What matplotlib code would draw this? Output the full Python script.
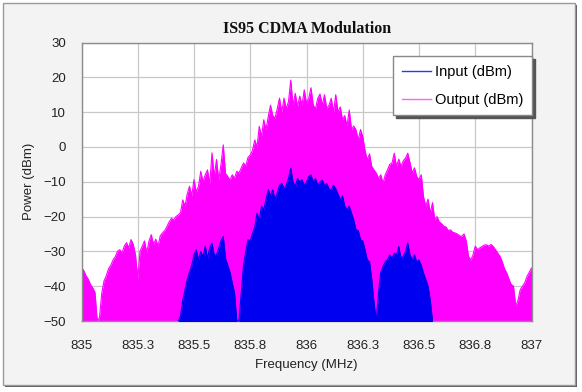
import numpy as np
import matplotlib
matplotlib.use("Agg")
import matplotlib.pyplot as plt
from matplotlib.patches import Rectangle

# ---- data ----
out_start, step = 835.00, 0.01
output_dbm = [
    -34.7, -35.5, -37, -38, -39.5, -40.5, -41.8, -50, -49, -42,
    -38.5, -37, -35, -34, -32.5, -31.5, -30, -29.5, -30.5, -28.5,
    -27.5, -29, -26.6, -28, -31, -38, -30, -28.5, -27, -30.4,
    -27, -25.2, -28, -26.5, -28.5, -25.5, -24.7, -24, -22.8, -21.5,
    -20.5, -21, -20, -19.5, -18.9, -15.2, -17, -13.5, -11.3, -14,
    -9.4, -13, -11.3, -7, -10, -8, -6.6, -10.6, -1.7, -8.5,
    -3.6, -9.4, -5, 0.6, -7.6, -8.5, -9.5, -8, -9, -7,
    -7.5, -6, -4.6, -5.5, -3, -2.3, -1, 2, 0, 5.9,
    3, 7.8, 5, 8.7, 12, 9, 8.3, 11, 14, 10,
    14, 11, 13, 19.2, 12, 15.4, 11.6, 14.6, 12, 16.4,
    12.6, 14, 17, 12, 11, 14, 15.2, 12, 15, 11,
    12, 14, 10, 15, 10, 11.5, 7.8, 9, 6, 10.6,
    5, 6, 4.9, 2, 5, 3, -1, -3.7, -2, -5.6,
    -6.6, -7.5, -9, -8, -10.4, -8, -6.6, -5, -4.6, -1.8,
    -5.6, -3.5, -5.6, -4, -3.2, -1.8, -4.5, -7.5, -6, -8.5,
    -9.4, -8, -14.3, -17, -15, -19, -16, -20.9, -20, -21.5,
    -22, -22.8, -23, -24, -23.8, -24.5, -24.7, -25, -25.5, -25.7,
    -25, -27, -31.4, -32.5, -31, -28.5, -29.5, -29, -28.6, -28.2,
    -28.1, -28.5, -28, -28.6, -29.5, -30.5, -31.4, -33, -35, -36.2,
    -38, -39.5, -40, -45.8, -44, -41, -40, -39, -37.2, -36,
    -34.8,
]
in_start = 835.43
input_dbm = [
    -50, -48.6, -44, -41, -38, -36, -34, -31, -29.5, -32.4,
    -30, -31.5, -28.5, -32, -29, -27.6, -31, -31, -29, -27,
    -25.7, -32, -34, -36, -39, -41.8, -50, -50, -41.8, -34,
    -30, -26.6, -27, -24.7, -23, -19, -21, -17, -18, -15,
    -12.3, -14, -12.3, -15, -13.2, -11, -10.4, -12, -11, -9,
    -6.1, -10, -11.3, -9, -10, -9.4, -11, -10, -8.5, -8,
    -10, -9, -11, -10, -9.5, -11, -10.5, -12, -12.3, -11,
    -12, -13.5, -15.2, -14, -17, -18, -17, -19, -21, -23.8,
    -24, -26.6, -27, -29.5, -32.4, -33, -38, -44.7, -50, -41.8,
    -36, -34.3, -33, -32.4, -31, -32, -30.5, -31, -28.6, -32,
    -31.4, -30, -27.6, -31, -32.4, -31, -33, -32.5, -34, -36.2,
    -38, -40, -44, -50,
]
x_ticks = [835.0, 835.25, 835.5, 835.75, 836.0, 836.25, 836.5, 836.75, 837.0]
x_tick_labels = ["835", "835.3", "835.5", "835.8", "836", "836.3", "836.5", "836.8", "837"]
y_ticks = [-50, -40, -30, -20, -10, 0, 10, 20, 30]

f_out = out_start + step * np.arange(len(output_dbm))
f_in = in_start + step * np.arange(len(input_dbm))

# ---- figure ----
W, H = 582, 392
fig = plt.figure(figsize=(W / 100, H / 100), dpi=100)
fig.patch.set_facecolor("white")

def fx(px): return px / W
def fy(py): return 1 - py / H

# chart border with shadow
fig.patches.append(Rectangle((fx(5), fy(387)), fx(577) - fx(5), fy(5) - fy(387),
                             transform=fig.transFigure, facecolor="#5A5A5A",
                             edgecolor="none", zorder=0))
fig.patches.append(Rectangle((fx(3), fy(385)), fx(575) - fx(3), fy(3) - fy(385),
                             transform=fig.transFigure, facecolor="#F3F3F3",
                             edgecolor="#9A9A9A", linewidth=1.0, zorder=1))

ax = fig.add_axes([81.5 / W, 1 - 321 / H, (531.5 - 81.5) / W, (321 - 42.5) / H])
ax.set_facecolor("white")
ax.set_zorder(2)

mag = "#FF00FF"
blue = "#0000F0"
ax.fill_between(f_out, -60, output_dbm, color=mag, linewidth=0, zorder=2)
ax.plot(f_out, output_dbm, color=mag, linewidth=0.8, zorder=2)
ax.fill_between(f_in, -60, input_dbm, color=blue, linewidth=0, zorder=3)
ax.plot(f_in, input_dbm, color=blue, linewidth=0.8, zorder=3)

ax.set_xlim(835, 837)
ax.set_ylim(-50, 30)
ax.set_xticks(x_ticks)
ax.set_xticklabels(x_tick_labels)
ax.set_yticks(y_ticks)
ax.tick_params(axis="x", length=0, labelsize=9.5, colors="#222222", pad=14)
ax.tick_params(axis="y", length=0, labelsize=9.5, colors="#222222", pad=11)
ax.grid(True, color="#C8C8C8", linewidth=0.9, zorder=0)
ax.set_axisbelow(True)
for s in ax.spines.values():
    s.set_color("#8C8C8C")
    s.set_linewidth(1.0)

fam = ["Liberation Sans", "DejaVu Sans"]
for lab in ax.get_xticklabels() + ax.get_yticklabels():
    lab.set_family(fam)

ax.set_xlabel("Frequency (MHz)", fontsize=9.5, family=fam, color="#222222", labelpad=5)
ax.set_ylabel("Power (dBm)", fontsize=9.5, family=fam, color="#222222", labelpad=6)
fig.text(fx(307), fy(29), "IS95 CDMA Modulation", ha="center", va="center",
         fontsize=11.5, fontweight="bold", family=["Liberation Serif", "DejaVu Serif"],
         color="#111111")

leg = ax.legend([plt.Line2D([], [], color="#3030FF", lw=1.0),
                 plt.Line2D([], [], color="#FF60FF", lw=1.0)],
                ["Input (dBm)", "Output (dBm)"],
                loc="upper left", bbox_to_anchor=((393 - 81.5) / 450, 1 - (56 - 42.5) / 278.5),
                prop={"family": fam, "size": 10.5}, frameon=True, fancybox=False,
                shadow={"color": "#555555", "alpha": 1.0}, borderpad=0.6,
                handlelength=2.0, handletextpad=0.3, labelspacing=0.95,
                borderaxespad=0)
leg.get_frame().set_edgecolor("#888888")
leg.get_frame().set_linewidth(1.0)
leg.get_frame().set_facecolor("white")
leg.set_zorder(10)

fig.savefig("out.png", dpi=100)
